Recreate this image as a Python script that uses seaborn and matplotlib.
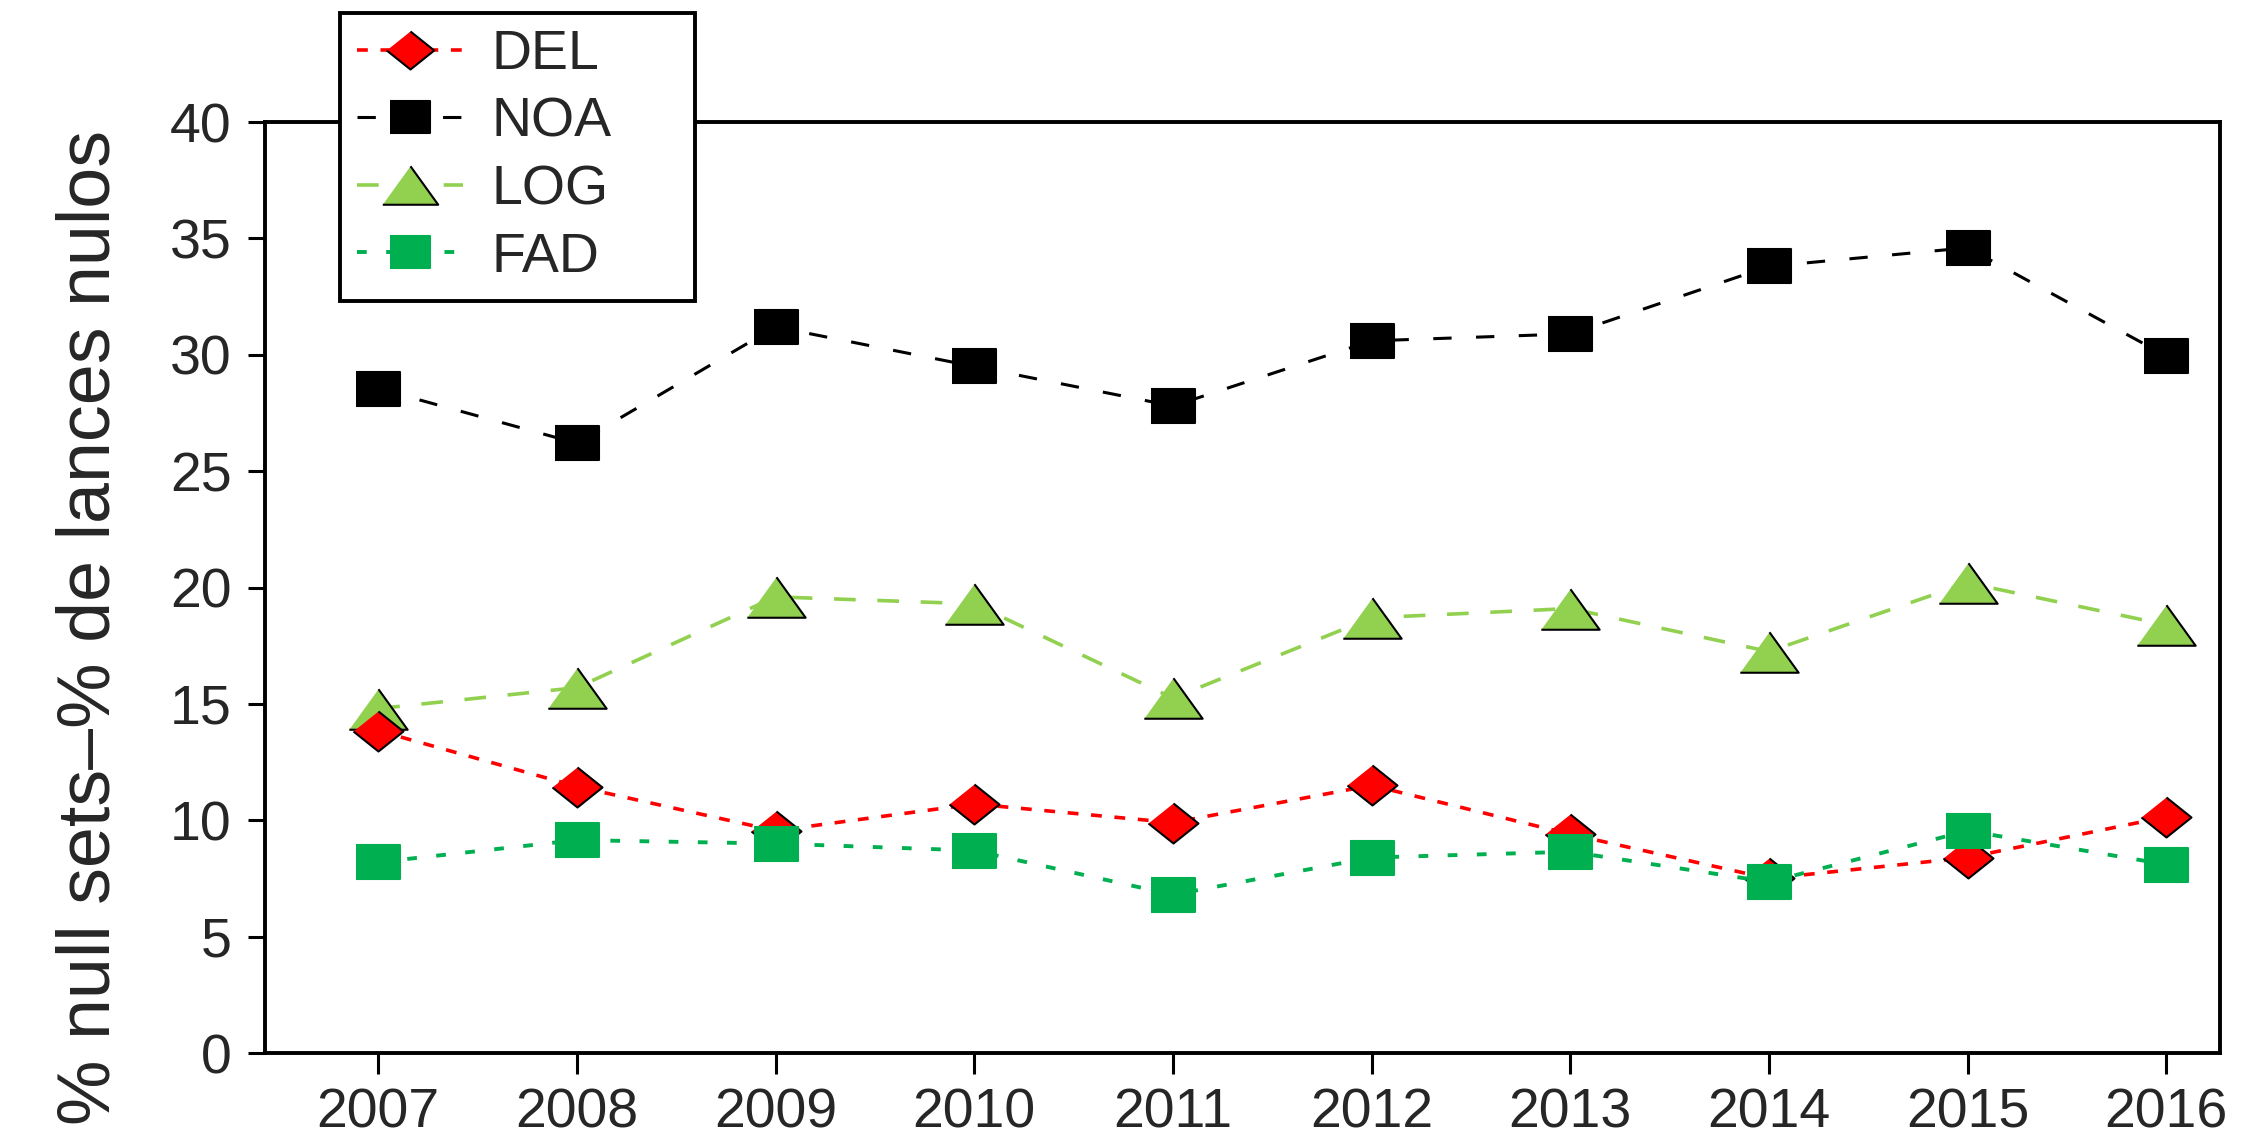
import numpy as np
import pandas as pd
import matplotlib
matplotlib.use('Agg')
import matplotlib.pyplot as plt
import seaborn as sns

years = [2007, 2008, 2009, 2010, 2011, 2012, 2013, 2014, 2015, 2016]
series_names = ['DEL', 'NOA', 'LOG', 'FAD']
del_vals = [13.85, 11.45, 9.55, 10.7, 9.9, 11.5, 9.4, 7.5, 8.4, 10.15]
noa_vals = [28.55, 26.2, 31.2, 29.5, 27.8, 30.6, 30.9, 33.8, 34.6, 29.95]
log_vals = [14.8, 15.7, 19.6, 19.3, 15.25, 18.7, 19.1, 17.25, 20.2, 18.4]
fad_vals = [8.2, 9.15, 9.0, 8.7, 6.8, 8.4, 8.65, 7.35, 9.55, 8.1]
y_label = '% null sets\u2013% de lances nulos'

df = pd.DataFrame({
    'year': years * 4,
    'value': del_vals + noa_vals + log_vals + fad_vals,
    'series': [s for s in series_names for _ in years],
})

# markers are a bit wider than tall, as in the original figure
square = [(-1.25, -1), (1.25, -1), (1.25, 1), (-1.25, 1)]
diamond = [(0, 1), (1.25, 0), (0, -1), (-1.25, 0)]
triangle = [(0, 1), (1.44, -1), (-1.44, -1)]

styles = {
    'DEL': dict(color='#FF0000', marker=diamond, markersize=36, mfc='#FF0000', mec='black',
                linestyle=(0, (3, 3.5)), linewidth=2.6),
    'NOA': dict(color='black', marker=square, markersize=31, mfc='black', mec='black',
                linestyle=(0, (6, 8)), linewidth=2.2),
    'LOG': dict(color='#92D050', marker=triangle, markersize=42, mfc='#92D050', mec='black',
                linestyle=(0, (6, 6)), linewidth=2.6),
    'FAD': dict(color='#00B050', marker=square, markersize=31, mfc='#00B050', mec='#00B050',
                linestyle=(0, (2.5, 5)), linewidth=2.8),
}

sns.set_style('ticks')
plt.rcParams['font.family'] = ['Liberation Sans', 'DejaVu Sans']

fig = plt.figure(figsize=(22.44, 11.43), dpi=100)
ax = fig.add_axes([0.1181, 0.0787, 0.8712, 0.8145])

for name in ['NOA', 'LOG', 'DEL', 'FAD']:
    st = styles[name]
    sns.lineplot(data=df[df['series'] == name], x='year', y='value', ax=ax,
                 color=st['color'], marker=st['marker'], markersize=st['markersize'],
                 markerfacecolor=st['mfc'], markeredgecolor=st['mec'], markeredgewidth=1.5,
                 linestyle=st['linestyle'], linewidth=st['linewidth'], label=name)

ax.set_xlim(2006.43, 2016.27)
ax.set_ylim(0, 40)
ax.set_xticks(years)
ax.set_xticklabels([str(y) for y in years])
ax.set_yticks(range(0, 45, 5))
ax.set_xlabel('')
ax.set_ylabel(y_label, fontsize=53)
ax.yaxis.set_label_coords(-0.072, 0.457)

for sp in ax.spines.values():
    sp.set_visible(True)
    sp.set_linewidth(2.8)
    sp.set_color('black')
ax.tick_params(axis='both', labelsize=40, width=2.2, color='black', direction='out')
ax.tick_params(axis='x', length=15, pad=10)
ax.tick_params(axis='y', length=12, pad=12)

handles, labels = ax.get_legend_handles_labels()
order = [labels.index(n) for n in series_names]
leg = ax.legend([handles[i] for i in order], [labels[i] for i in order],
                loc='upper left', bbox_to_anchor=(0.1515, 0.989 - 0.25, 0.158, 0.25),
                bbox_transform=fig.transFigure, mode='expand', fontsize=40, frameon=True,
                fancybox=False, framealpha=1, edgecolor='black', borderpad=0.3,
                labelspacing=0.28, handlelength=1.92, handletextpad=0.5,
                borderaxespad=0, markerscale=0.95)
leg.get_frame().set_linewidth(2.8)

fig.savefig('out.png', dpi=100)
